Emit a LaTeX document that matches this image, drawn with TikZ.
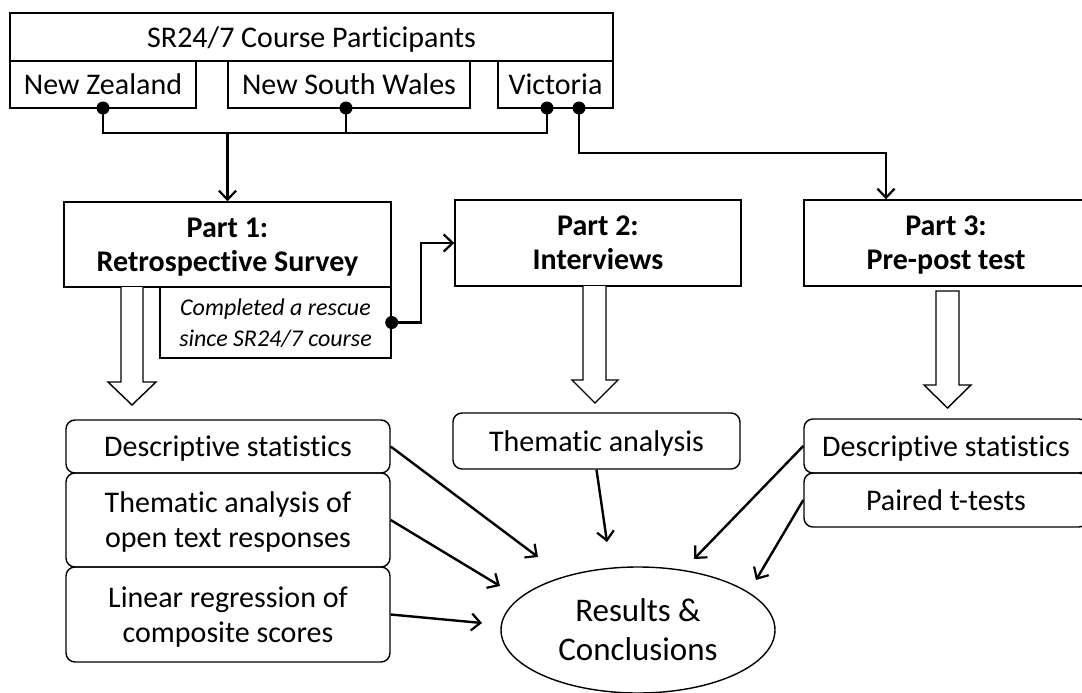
\documentclass[tikz,border=0pt]{standalone}
\usepackage{fontspec}
\setmainfont{Carlito}[Ligatures={NoCommon}]
\usetikzlibrary{arrows.meta,shapes.geometric}
\begin{document}
\begin{tikzpicture}[x=1pt,y=-1pt,
  box/.style={draw, line width=1.4pt, inner sep=0pt, align=center, text depth=0pt, font=\fontsize{30}{35}\selectfont},
  rbox/.style={box, rounded corners=9pt},
  bold/.style={font=\fontsize{30}{34}\selectfont\bfseries},
  conn/.style={line width=2.4pt},
  arr/.style={line width=2.4pt, -{Straight Barb[length=9pt,width=17pt,line width=2.2pt]}},
  dot/.style={circle, fill=black, inner sep=0pt, minimum size=13pt},
  blockarrow/.style={draw, line width=1.4pt, fill=white, line join=miter}
]
\useasboundingbox (0,0) rectangle (1082,693);
% top participants block
\node[box, minimum width=603pt, minimum height=48pt] (top) at (311.5,37) {SR24/7 Course Participants};
\node[box, minimum width=186pt, minimum height=47pt] (nz) at (103,84.5) {New Zealand};
\node[box, minimum width=242pt, minimum height=47pt] (nsw) at (349,84.5) {New South Wales};
\node[box, minimum width=115pt, minimum height=47pt] (vic) at (555.5,84.5) {Victoria};
\node[dot] (dnz) at (103,108) {};
\node[dot] (dnsw) at (346,108) {};
\node[dot] (dvic1) at (547,108) {};
\node[dot] (dvic2) at (579,108) {};
% parts
\node[box, bold, minimum width=327pt, minimum height=85pt] (p1) at (227.5,244.5) {Part 1:\\Retrospective Survey};
\node[box, minimum width=231pt, minimum height=71pt, font=\fontsize{24}{31}\selectfont\itshape] (comp) at (275.5,322.5) {Completed a rescue\\since SR24/7 course};
\node[box, bold, minimum width=286pt, minimum height=86pt] (p2) at (598,243) {Part 2:\\Interviews};
\node[box, bold, minimum width=284pt, minimum height=86pt] (p3) at (946,243) {Part 3:\\Pre-post test};
\node[dot] (dc) at (comp.east) {};
% connectors from top
\coordinate (h1) at (103,133);
\coordinate (h2) at (547,133);
\coordinate (hj) at (227.5,133);
\draw[conn] (dnz.center) -- (h1) -- (h2) -- (dvic1.center);
\draw[conn] (dnsw.center) -- (346,133);
\draw[arr] (hj) -- (p1.north);
\draw[arr] (dvic2.center) |- (886,153) -- (886,0 |- p3.north);
\draw[arr] (dc.center) -- (421,0 |- dc.center) |- (p2.west);
% block arrows
\draw[blockarrow] (121,287) -- (121,382) -- (108,382) -- (132,405) -- (156,382) -- (143,382) -- (143,287);
\draw[blockarrow] (583,286) -- (583,380) -- (572,380) -- (595,403) -- (618,380) -- (606,380) -- (606,286);
\draw[blockarrow] (936,291) -- (936,385) -- (924,385) -- (947.5,408) -- (971,385) -- (959,385) -- (959,291) -- cycle;
% analyses
\node[rbox, minimum width=324pt, minimum height=53pt] (d1) at (228,446.5) {Descriptive statistics};
\node[rbox, minimum width=324pt, minimum height=94pt] (t1) at (228,520) {Thematic analysis of\\open text responses};
\node[rbox, minimum width=324pt, minimum height=95pt] (l1) at (228,614.5) {Linear regression of\\composite scores};
\node[rbox, minimum width=287pt, minimum height=56pt] (t2) at (596.5,441) {Thematic analysis};
\node[rbox, minimum width=284pt, minimum height=54pt] (d3) at (946,446) {Descriptive statistics};
\node[rbox, minimum width=284pt, minimum height=54pt] (p3t) at (946,500) {Paired t-tests};
\node[draw, ellipse, line width=1.4pt, inner sep=0pt, minimum width=274pt, minimum height=126pt, align=center, text depth=0pt, font=\fontsize{33}{39}\selectfont] (res) at (638,630) {Results \&\\Conclusions};
\coordinate (e1) at (538,557);
\coordinate (e2) at (500,586);
\coordinate (e3) at (482,623);
\coordinate (e4) at (607,542);
\coordinate (e5) at (694,559);
\coordinate (e6) at (756,580);
\draw[arr] (d1.east) -- (e1);
\draw[arr] (t1.east) -- (e2);
\draw[arr] (l1.east) -- (e3);
\draw[arr] (t2.south) -- (e4);
\draw[arr] (d3.west) -- (e5);
\draw[arr] (p3t.west) -- (e6);
\end{tikzpicture}
\end{document}
